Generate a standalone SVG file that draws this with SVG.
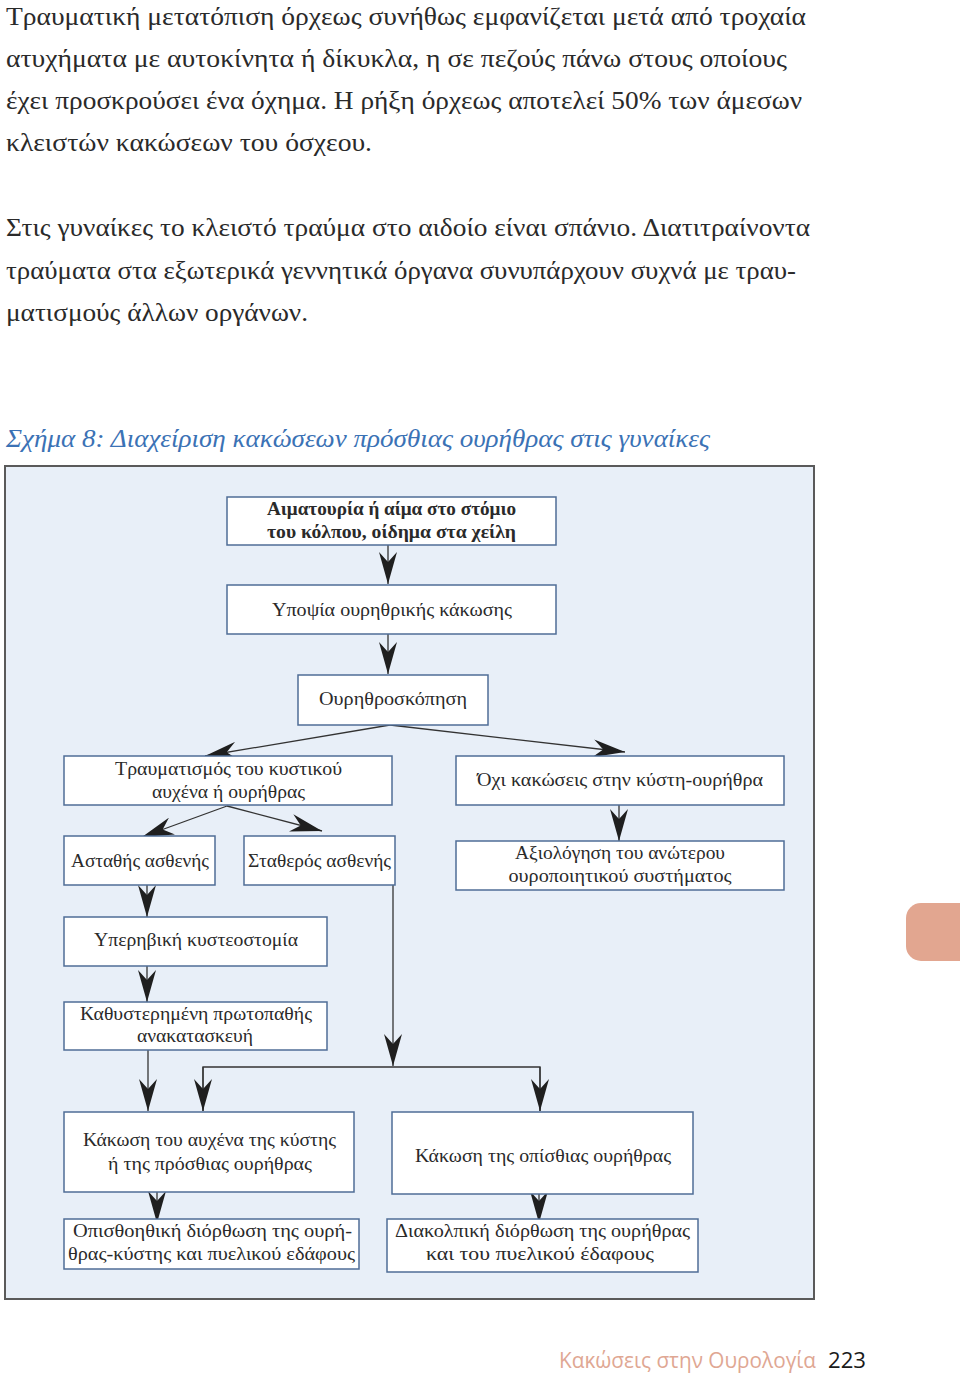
<svg xmlns="http://www.w3.org/2000/svg" width="960" height="1382" viewBox="0 0 960 1382">
<defs>
<style>
.body{font-family:"Liberation Serif","DejaVu Serif",serif;font-size:26px;fill:#2a2a2a}
.title{font-family:"Liberation Serif","DejaVu Serif",serif;font-size:26px;font-style:italic;fill:#3b72b5}
.box{fill:#ffffff;stroke:#4f6d96;stroke-width:1.5}
.t{font-family:"Liberation Serif","DejaVu Serif",serif;font-size:19px;fill:#2a2a2a;text-anchor:middle}
.tb{font-weight:bold}
.c{fill:none;stroke:#333;stroke-width:1.3}
.foot{font-family:"Open Sans","Liberation Sans",sans-serif;font-size:22px}
</style>
<marker id="ah" markerUnits="userSpaceOnUse" viewBox="0 -9 32 18" markerWidth="32" markerHeight="18" refX="32" refY="0" orient="auto">
<path d="M32,0 L0,-9 L10,0 L0,9 Z" fill="#1f1f1f"/>
</marker>
</defs>
<rect width="960" height="1382" fill="#ffffff"/>

<g id="body-text">
<text class="body" x="6" y="25" textLength="800" lengthAdjust="spacingAndGlyphs">Τραυματική μετατόπιση όρχεως συνήθως εμφανίζεται μετά από τροχαία</text>
<text class="body" x="6" y="67" textLength="781" lengthAdjust="spacingAndGlyphs">ατυχήματα με αυτοκίνητα ή δίκυκλα, η σε πεζούς πάνω στους οποίους</text>
<text class="body" x="6" y="109" textLength="796" lengthAdjust="spacingAndGlyphs">έχει προσκρούσει ένα όχημα. Η ρήξη όρχεως αποτελεί 50% των άμεσων</text>
<text class="body" x="6" y="151" textLength="366" lengthAdjust="spacingAndGlyphs">κλειστών κακώσεων του όσχεου.</text>
<text class="body" x="6" y="236" textLength="804" lengthAdjust="spacingAndGlyphs">Στις γυναίκες το κλειστό τραύμα στο αιδοίο είναι σπάνιο. Διατιτραίνοντα</text>
<text class="body" x="6" y="279" textLength="790" lengthAdjust="spacingAndGlyphs">τραύματα στα εξωτερικά γεννητικά όργανα συνυπάρχουν συχνά με τραυ-</text>
<text class="body" x="6" y="321" textLength="302" lengthAdjust="spacingAndGlyphs">ματισμούς άλλων οργάνων.</text>
<text class="title" x="6" y="447" textLength="704" lengthAdjust="spacingAndGlyphs">Σχήμα 8: Διαχείριση κακώσεων πρόσθιας ουρήθρας στις γυναίκες</text>
</g>

<rect id="panel" x="5" y="466" width="809" height="833" fill="#e8eff8" stroke="#5a5a5a" stroke-width="2"/>

<g id="connectors">
<line class="c" x1="388" y1="545" x2="388" y2="584" marker-end="url(#ah)"/>
<line class="c" x1="388" y1="634" x2="388" y2="674" marker-end="url(#ah)"/>
<line class="c" x1="390" y1="725" x2="205" y2="756" marker-end="url(#ah)"/>
<line class="c" x1="390" y1="725" x2="625" y2="752" marker-end="url(#ah)"/>
<line class="c" x1="227" y1="806" x2="142" y2="837" marker-end="url(#ah)"/>
<line class="c" x1="227" y1="806" x2="322" y2="831" marker-end="url(#ah)"/>
<line class="c" x1="619" y1="805" x2="619" y2="841" marker-end="url(#ah)"/>
<line class="c" x1="147" y1="885" x2="147" y2="917" marker-end="url(#ah)"/>
<line class="c" x1="147" y1="966" x2="147" y2="1002" marker-end="url(#ah)"/>
<line class="c" x1="393" y1="884" x2="393" y2="1066" marker-end="url(#ah)"/>
<polyline class="c" points="203,1111 203,1067 540,1067 540,1111"/>
<line class="c" x1="203" y1="1067" x2="203" y2="1111" marker-end="url(#ah)"/>
<line class="c" x1="540" y1="1067" x2="540" y2="1111" marker-end="url(#ah)"/>
<line class="c" x1="148" y1="1050" x2="148" y2="1111" marker-end="url(#ah)"/>
<line class="c" x1="157" y1="1186" x2="157" y2="1223" marker-end="url(#ah)"/>
<line class="c" x1="539" y1="1186" x2="539" y2="1223" marker-end="url(#ah)"/>
</g>

<g id="n1"><rect class="box" x="227" y="497" width="329" height="48"/>
<text class="t tb" x="391.5" y="515" textLength="249" lengthAdjust="spacingAndGlyphs">Αιματουρία ή αίμα στο στόμιο</text>
<text class="t tb" x="391.5" y="538" textLength="249" lengthAdjust="spacingAndGlyphs">του κόλπου, οίδημα στα χείλη</text></g>

<g id="n2"><rect class="box" x="227" y="585" width="329" height="49"/>
<text class="t" x="392" y="616" textLength="240" lengthAdjust="spacingAndGlyphs">Υποψία ουρηθρικής κάκωσης</text></g>

<g id="n3"><rect class="box" x="298" y="675" width="190" height="50"/>
<text class="t" x="393" y="705" textLength="148" lengthAdjust="spacingAndGlyphs">Ουρηθροσκόπηση</text></g>

<g id="n4"><rect class="box" x="64" y="756" width="328" height="49"/>
<text class="t" x="228.5" y="775" textLength="227" lengthAdjust="spacingAndGlyphs">Τραυματισμός του κυστικού</text>
<text class="t" x="228.5" y="798" textLength="153" lengthAdjust="spacingAndGlyphs">αυχένα ή ουρήθρας</text></g>

<g id="n5"><rect class="box" x="456" y="756" width="328" height="49"/>
<text class="t" x="620" y="786" textLength="286" lengthAdjust="spacingAndGlyphs">Όχι κακώσεις στην κύστη-ουρήθρα</text></g>

<g id="n6"><rect class="box" x="64" y="836" width="151" height="49"/>
<text class="t" x="140" y="867" textLength="138" lengthAdjust="spacingAndGlyphs">Ασταθής ασθενής</text></g>

<g id="n7"><rect class="box" x="244" y="836" width="151" height="49"/>
<text class="t" x="319.5" y="867" textLength="143" lengthAdjust="spacingAndGlyphs">Σταθερός ασθενής</text></g>

<g id="n8"><rect class="box" x="456" y="841" width="328" height="49"/>
<text class="t" x="620" y="859" textLength="210" lengthAdjust="spacingAndGlyphs">Αξιολόγηση του ανώτερου</text>
<text class="t" x="620" y="882" textLength="223" lengthAdjust="spacingAndGlyphs">ουροποιητικού συστήματος</text></g>

<g id="n9"><rect class="box" x="64" y="917" width="263" height="49"/>
<text class="t" x="196" y="946" textLength="204" lengthAdjust="spacingAndGlyphs">Υπερηβική κυστεοστομία</text></g>

<g id="n10"><rect class="box" x="64" y="1002" width="263" height="48"/>
<text class="t" x="196" y="1020" textLength="232" lengthAdjust="spacingAndGlyphs">Καθυστερημένη πρωτοπαθής</text>
<text class="t" x="195" y="1042" textLength="116" lengthAdjust="spacingAndGlyphs">ανακατασκευή</text></g>

<g id="n11"><rect class="box" x="64" y="1112" width="290" height="80"/>
<text class="t" x="209.5" y="1146" textLength="253" lengthAdjust="spacingAndGlyphs">Κάκωση του αυχένα της κύστης</text>
<text class="t" x="210" y="1170" textLength="204" lengthAdjust="spacingAndGlyphs">ή της πρόσθιας ουρήθρας</text></g>

<g id="n12"><rect class="box" x="392" y="1112" width="301" height="82"/>
<text class="t" x="543" y="1162" textLength="256" lengthAdjust="spacingAndGlyphs">Κάκωση της οπίσθιας ουρήθρας</text></g>

<g id="n13"><rect class="box" x="64" y="1219" width="295" height="50"/>
<text class="t" x="212.5" y="1237" textLength="279" lengthAdjust="spacingAndGlyphs">Οπισθοηθική διόρθωση της ουρή-</text>
<text class="t" x="211.5" y="1260" textLength="287" lengthAdjust="spacingAndGlyphs">θρας-κύστης και πυελικού εδάφους</text></g>

<g id="n14"><rect class="box" x="387" y="1219" width="311" height="53"/>
<text class="t" x="542.5" y="1237" textLength="295" lengthAdjust="spacingAndGlyphs">Διακολπική διόρθωση της ουρήθρας</text>
<text class="t" x="540" y="1260" textLength="228" lengthAdjust="spacingAndGlyphs">και του πυελικού έδαφους</text></g>

<rect id="tab" x="906" y="903" width="80" height="58" rx="15" fill="#e2a690"/>

<g id="footer">
<text class="foot" x="559" y="1368" fill="#dfa793" textLength="257" lengthAdjust="spacingAndGlyphs">Κακώσεις στην Ουρολογία</text>
<text class="foot" x="828" y="1368" fill="#1a1a1a" textLength="38" lengthAdjust="spacingAndGlyphs">223</text>
</g>
</svg>
